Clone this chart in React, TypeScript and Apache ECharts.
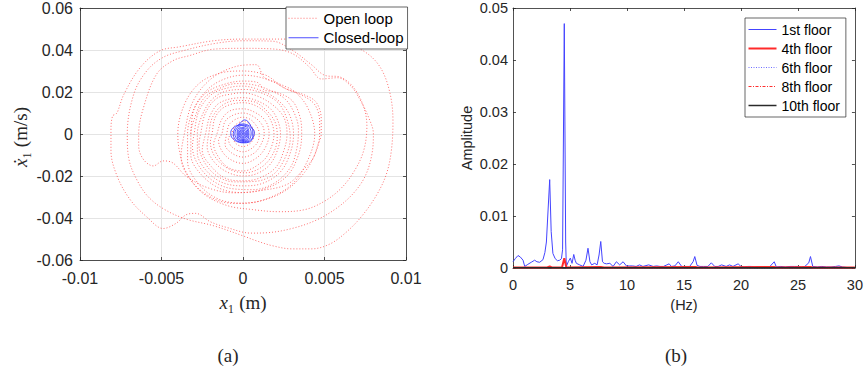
import React, { useEffect, useRef } from "react";
import * as echarts from "echarts";

// ---------- (a) phase portrait: x1 (m) vs x1-dot (m/s) ----------
// open-loop trajectory, clockwise, split into turns
const openGrowthTurn: number[][] = [
  [-0.0032, 0], [-0.003, 0.012], [-0.0022, 0.021], [-0.0012, 0.026], [0, 0.028], [0.0015, 0.026],
  [0.0028, 0.021], [0.0038, 0.0185], [0.0045, 0.015], [0.0048, 0.007], [0.0048, 0], [0.0046, -0.005],
  [0.0043, -0.0115], [0.0037, -0.017], [0.0027, -0.024], [0.001, -0.027], [-0.0006, -0.028],
  [-0.0022, -0.0255], [-0.0035, -0.02], [-0.0043, -0.0138], [-0.0049, -0.0128], [-0.0055, -0.0152],
  [-0.0061, -0.0122], [-0.0064, -0.0057], [-0.0064, 0], [-0.0061, 0.0127], [-0.0053, 0.0285],
  [-0.0043, 0.0349], [-0.0033, 0.0373], [-0.0018, 0.0404], [0, 0.0408], [0.002, 0.0404],
  [0.0031, 0.038], [0.0041, 0.0317], [0.0048, 0.0262], [0.0058, 0.0268], [0.0066, 0.023],
  [0.0072, 0.016], [0.0077, 0.008], [0.008, 0], [0.0079, -0.01], [0.0075, -0.02], [0.0068, -0.028],
  [0.0058, -0.035], [0.0045, -0.041], [0.003, -0.045], [0.0015, -0.047],
];
const openOuterTurn: number[][] = [
  [0.0005, -0.0472], [-0.001, -0.0445], [-0.002, -0.0418], [-0.0029, -0.0378], [-0.0035, -0.0385],
  [-0.0041, -0.0425], [-0.0049, -0.045], [-0.0059, -0.0395], [-0.0069, -0.0315], [-0.0077, -0.0205],
  [-0.0081, -0.008], [-0.0081, 0.002], [-0.008, 0.0086], [-0.0078, 0.0095], [-0.0077, 0.0105],
  [-0.0073, 0.019], [-0.0063, 0.0317], [-0.0051, 0.0396], [-0.0039, 0.0415], [-0.0018, 0.0444],
  [0, 0.0452], [0.0027, 0.0452], [0.0045, 0.0449], [0.006, 0.0435], [0.0074, 0.0395], [0.0084, 0.032],
  [0.009, 0.02], [0.0092, 0.006], [0.0091, -0.008], [0.0088, -0.019], [0.0082, -0.029], [0.0073, -0.039],
  [0.0063, -0.047], [0.0053, -0.0525], [0.0042, -0.0547], [0.003, -0.0547], [0.0018, -0.0532],
  [0.0008, -0.0508],
];
const openSecondTurn: number[][] = [
  [0, -0.0485], [-0.0018, -0.0437], [-0.0035, -0.0405], [-0.0048, -0.036], [-0.0058, -0.03],
  [-0.0065, -0.022], [-0.007, -0.012], [-0.0071, 0], [-0.0067, 0.019], [-0.0059, 0.0301],
  [-0.0049, 0.0365], [-0.0037, 0.0396], [-0.0018, 0.043], [0, 0.0444], [0.0018, 0.0442],
  [0.003, 0.04], [0.0042, 0.033], [0.005, 0.028], [0.006, 0.027], [0.0068, 0.022], [0.0074, 0.013],
  [0.0076, 0.004], [0.0074, -0.008], [0.0068, -0.018], [0.006, -0.026], [0.005, -0.032],
  [0.0038, -0.036], [0.0022, -0.037], [0.0006, -0.036], [-0.001, -0.034], [-0.0025, -0.028],
  [-0.0035, -0.018], [-0.0039, -0.008],
];
const openInnerRingsA: number[][] = [
  [-0.004, 0], [-0.0036, 0.014], [-0.0027, 0.024], [-0.0014, 0.029], [0, 0.03], [0.0014, 0.028],
  [0.0025, 0.022], [0.0036, 0.0185], [0.0044, 0.014], [0.0047, 0.006], [0.0047, 0], [0.0045, -0.008],
  [0.0038, -0.018], [0.0026, -0.027], [0.001, -0.032], [-0.0006, -0.033], [-0.002, -0.03],
  [-0.0032, -0.022], [-0.0038, -0.011],
  [-0.0036, 0], [-0.0031, 0.015], [-0.002, 0.026], [-0.0005, 0.032], [0.0008, 0.033], [0.0013, 0.027],
  [0.0022, 0.024], [0.0032, 0.02], [0.004, 0.012], [0.0044, 0], [0.004, -0.012], [0.003, -0.024],
  [0.0014, -0.031], [0, -0.033], [-0.0015, -0.031], [-0.0027, -0.024], [-0.0034, -0.013],
  [-0.0034, 0], [-0.003, 0.012], [-0.0022, 0.02], [-0.001, 0.024], [0, 0.0252], [0.0009, 0.0245],
  [0.0013, 0.021], [0.002, 0.02], [0.003, 0.016], [0.0035, 0.008], [0.0036, 0], [0.0034, -0.01],
  [0.0027, -0.02], [0.0014, -0.026], [0, -0.0279], [-0.0014, -0.026], [-0.0026, -0.019],
  [-0.0032, -0.01],
  [-0.0032, 0], [-0.0029, 0.009], [-0.0024, 0.017], [-0.0015, 0.0215], [-0.0004, 0.024],
  [0.0006, 0.0235], [0.0016, 0.021], [0.0026, 0.0165], [0.0032, 0.009], [0.0034, 0.002],
  [0.0033, -0.007], [0.0029, -0.016], [0.0019, -0.0235], [0.0006, -0.0265], [-0.0007, -0.026],
  [-0.0019, -0.022], [-0.0028, -0.014], [-0.0031, -0.006],
];
const openInnerRingsB: number[][] = [
  [-0.003, 0], [-0.0027, 0.011], [-0.0019, 0.019], [-0.0008, 0.0222], [0, 0.0228], [0.001, 0.021],
  [0.002, 0.017], [0.0028, 0.01], [0.0031, 0], [0.0029, -0.009], [0.0023, -0.018], [0.0012, -0.0235],
  [0, -0.0247], [-0.0013, -0.023], [-0.0023, -0.017], [-0.0028, -0.009],
  [-0.0028, 0], [-0.0025, 0.009], [-0.0019, 0.0165], [-0.001, 0.0205], [0.0002, 0.0212],
  [0.0013, 0.019], [0.0022, 0.0145], [0.0027, 0.007], [0.0029, -0.002], [0.0026, -0.011],
  [0.0019, -0.019], [0.0008, -0.0225], [-0.0005, -0.0228], [-0.0016, -0.02], [-0.0024, -0.013],
  [-0.0027, -0.005],
  [-0.0026, 0], [-0.0023, 0.01], [-0.0016, 0.017], [-0.0006, 0.0192], [0, 0.0196], [0.0009, 0.018],
  [0.0018, 0.014], [0.0025, 0.008], [0.0027, 0], [0.0025, -0.008], [0.002, -0.016], [0.001, -0.021],
  [0, -0.0223], [-0.0011, -0.021], [-0.002, -0.015], [-0.0025, -0.008],
  [-0.0023, 0], [-0.002, 0.009], [-0.0014, 0.015], [0, 0.0173], [0.0011, 0.015], [0.0019, 0.01],
  [0.0023, 0], [0.0021, -0.008], [0.0016, -0.015], [0.0008, -0.019], [0, -0.02], [-0.001, -0.018],
  [-0.0018, -0.013], [-0.0022, -0.006],
  [-0.0021, 0], [-0.0019, 0.0075], [-0.0013, 0.0135], [-0.0004, 0.016], [0.0006, 0.0155],
  [0.0014, 0.0115], [0.002, 0.005], [0.0021, -0.002], [0.0018, -0.01], [0.0011, -0.016],
  [0.0001, -0.0185], [-0.0009, -0.0165], [-0.0017, -0.011], [-0.002, -0.004],
];
const openInnerRingsC: number[][] = [
  [-0.0019, 0], [-0.0017, 0.008], [-0.0011, 0.013], [0, 0.0149], [0.0009, 0.013], [0.0016, 0.008],
  [0.0019, 0], [0.0017, -0.007], [0.0012, -0.013], [0, -0.0176], [-0.0009, -0.016], [-0.0015, -0.011],
  [-0.0018, -0.005],
  [-0.0016, 0], [-0.0013, 0.007], [-0.0008, 0.011], [0, 0.012], [0.0008, 0.01], [0.0014, 0.006],
  [0.0016, 0], [0.0014, -0.006], [0.0009, -0.011], [0, -0.014], [-0.0008, -0.012], [-0.0013, -0.008],
  [-0.0015, -0.003],
  [-0.0013, 0], [-0.0011, 0.006], [-0.0006, 0.009], [0, 0.01], [0.0007, 0.008], [0.0012, 0.004],
  [0.0013, 0], [0.0011, -0.005], [0.0007, -0.009], [0, -0.011], [-0.0007, -0.009], [-0.0011, -0.005],
  [-0.001, 0], [-0.0008, 0.005], [0, 0.008], [0.0006, 0.006], [0.001, 0], [0.0008, -0.005],
  [0, -0.0085], [-0.0007, -0.006], [-0.0009, -0.002],
  [-0.0007, 0], [-0.0005, 0.004], [0, 0.006], [0.0005, 0.004], [0.0007, 0], [0.0005, -0.004],
  [0, -0.006], [-0.0005, -0.004], [-0.0006, 0],
];
const openLoop = [
  ...openGrowthTurn,
  ...openOuterTurn,
  ...openSecondTurn,
  ...openInnerRingsA,
  ...openInnerRingsB,
  ...openInnerRingsC,
];

// closed-loop trajectory stays close to the origin
const closedLoopOuter: number[][] = [
  [-0.0003, 0.004], [0.0001, 0.0067], [0.0003, 0.006], [0.0005, 0.0035], [0.0007, 0.0008],
  [0.0006, -0.002], [0.0004, -0.0038], [0, -0.0042], [-0.0004, -0.0035], [-0.0007, -0.0015],
  [-0.00075, 0.0008], [-0.0006, 0.003], [-0.0003, 0.0042],
  [0, 0.0048], [0.0004, 0.0038], [0.0006, 0.0015], [0.0006, -0.0012], [0.0004, -0.0033], [0, -0.004],
  [-0.0004, -0.003], [-0.0006, -0.0005], [-0.0005, 0.0025], [-0.0002, 0.0043],
  [0.0001, 0.0042], [0.0004, 0.003], [0.0005, 0.0005], [0.0004, -0.0025], [0.0001, -0.0036],
  [-0.0003, -0.0028], [-0.0005, -0.0002], [-0.0004, 0.0025], [-0.0001, 0.004],
];
const closedLoopCore: number[][] = [
  [0.0003, 0.0028], [0.00036, 0], [0.0003, -0.0026], [0, -0.0031], [-0.0003, -0.0024],
  [-0.00036, 0], [-0.0003, 0.0026], [0, 0.003],
  [0.00026, 0.0022], [0.0003, 0], [0.00025, -0.0021], [0, -0.0026], [-0.00025, -0.002],
  [-0.0003, 0], [-0.00025, 0.0021], [0, 0.0025],
  [0.0002, 0.0017], [0.00024, 0], [0.0002, -0.0016], [0, -0.002], [-0.0002, -0.0016],
  [-0.00024, 0], [-0.0002, 0.0016], [0, 0.0019],
  [0.00015, 0.0012], [0.00018, 0], [0.00015, -0.0012], [0, -0.0015], [-0.00015, -0.0012],
  [-0.00018, 0], [-0.00015, 0.0012], [0, 0.0014],
  [0.0001, 0.0008], [0.00012, 0], [0.0001, -0.0008], [0, -0.001], [-0.0001, -0.0008],
  [-0.00012, 0], [-0.0001, 0.0008], [0, 0.0009],
  [0.00005, 0.0004], [0.00006, 0], [0, -0.0005], [-0.00006, 0], [0, 0.0004], [0, 0],
];
const closedLoop = [...closedLoopOuter, ...closedLoopCore];

// ---------- (b) amplitude spectra [Hz, amplitude] ----------
const floor1: number[][] = [
  [0, 0.0012], [0.2, 0.0018], [0.44, 0.0024], [0.65, 0.0021], [0.88, 0.0015], [1.03, 0.0003],
  [1.3, 0.0007], [1.6, 0.0011], [1.9, 0.0015], [2.1, 0.0012], [2.34, 0.0011], [2.63, 0.0016],
  [2.8, 0.003], [2.93, 0.005], [3.05, 0.01], [3.22, 0.017], [3.35, 0.007], [3.5, 0.0028],
  [3.7, 0.0018], [3.9, 0.0014], [4.1, 0.0015], [4.25, 0.0018], [4.35, 0.0035], [4.5, 0.047],
  [4.62, 0.005], [4.68, 0.0003], [4.85, 0.0012], [5.03, 0.0019], [5.18, 0.0009], [5.33, 0.0026],
  [5.45, 0.0015], [5.56, 0.0009], [5.85, 0.0006], [6.15, 0.0003], [6.4, 0.0015], [6.58, 0.0038],
  [6.75, 0.0012], [6.9, 0.0006], [7.17, 0.0009], [7.38, 0.0006], [7.55, 0.0025], [7.7, 0.0051],
  [7.85, 0.0012], [8.0, 0.0009], [8.2, 0.0008], [8.5, 0.0009], [8.78, 0.0003], [9.07, 0.0012],
  [9.36, 0.0006], [9.66, 0.0012], [9.95, 0.0004], [10.2, 0.0004], [10.5, 0.0004], [10.8, 0.0003],
  [11.1, 0.0006], [11.4, 0.0003], [11.9, 0.0006], [12.3, 0.0003], [12.6, 0.0004], [12.9, 0.0003],
  [13.2, 0.0003], [13.5, 0.0006], [13.7, 0.0008], [13.9, 0.0003], [14.2, 0.0004], [14.5, 0.0012],
  [14.8, 0.0003], [15.2, 0.0003], [15.5, 0.0003], [15.8, 0.0012], [15.95, 0.0022], [16.15, 0.0005],
  [16.4, 0.0003], [16.7, 0.0003], [17.1, 0.0003], [17.4, 0.001], [17.7, 0.0003], [18.0, 0.0003],
  [18.3, 0.0006], [18.7, 0.0003], [19.0, 0.0006], [19.3, 0.0003], [19.75, 0.0008], [20.0, 0.0003],
  [20.3, 0.0002], [20.6, 0.0003], [20.9, 0.0003], [21.2, 0.0002], [21.5, 0.0003], [21.8, 0.0002],
  [22.1, 0.0003], [22.5, 0.0002], [22.92, 0.0012], [23.1, 0.0002], [23.5, 0.0003], [23.9, 0.0002],
  [24.3, 0.0003], [24.7, 0.0003], [25.0, 0.0003], [25.3, 0.0002], [25.6, 0.0003], [25.95, 0.001],
  [26.1, 0.0022], [26.3, 0.0003], [26.7, 0.0002], [27.1, 0.0003], [27.5, 0.0002], [27.9, 0.0002],
  [28.3, 0.0003], [28.6, 0.0004], [28.9, 0.0002], [29.3, 0.0001], [29.7, 0.0001], [30, 0.0001],
];
const floor4: number[][] = [
  [0, 0.0001], [3.0, 0.0001], [3.22, 0.0003], [3.4, 0.0001], [4.3, 0.0001], [4.5, 0.0019],
  [4.68, 0.0001], [7.7, 0.0002], [8.0, 0.0001], [16.0, 0.0002], [16.2, 0.0001], [22.9, 0.0002],
  [23.1, 0.0001], [26.1, 0.0002], [26.3, 0.0001], [30, 0.0001],
];
const floor6: number[][] = [[0, 0.00005], [4.5, 0.0001], [4.7, 0.00005], [30, 0.00005]];
const floor8: number[][] = [[0, 0.00004], [4.5, 0.00008], [4.7, 0.00004], [30, 0.00004]];
const floor10: number[][] = [[0, 0.00003], [4.5, 0.00006], [4.7, 0.00003], [30, 0.00003]];

const SANS = "Liberation Sans, Arial, Helvetica, sans-serif";
const SERIF = "Liberation Serif, DejaVu Serif, serif";
const INK = "#262626";

// line styles shared by the series and their legend keys
const STYLE: Record<string, { color: string; width: number; type: any; opacity: number }> = {
  "Open loop": { color: "#ff4040", width: 1, type: [1, 2], opacity: 0.75 },
  "Closed-loop": { color: "#3030ff", width: 1, type: "solid", opacity: 0.85 },
  "1st floor": { color: "#4444ff", width: 1, type: "solid", opacity: 1 },
  "4th floor": { color: "#ff2a2a", width: 2, type: "solid", opacity: 1 },
  "6th floor": { color: "#6f6fff", width: 1, type: [1, 1.5], opacity: 1 },
  "8th floor": { color: "#ff3030", width: 1, type: [3, 1.5, 1, 1.5], opacity: 1 },
  "10th floor": { color: "#2a2a2a", width: 1.5, type: "solid", opacity: 1 },
};

const fmt = (v: number) => String(parseFloat(v.toFixed(4)));

function makeAxis(
  gridIndex: number,
  position: string,
  min: number,
  max: number,
  interval: number,
  labels: boolean,
  fontSize: number,
  margin: number,
  grid: boolean
) {
  return {
    type: "value",
    gridIndex,
    position,
    min,
    max,
    interval,
    axisLine: { show: true, onZero: false, lineStyle: { color: INK, width: 0.8 } },
    axisTick: { show: true, inside: true, length: 3, lineStyle: { color: INK, width: 0.8 } },
    axisLabel: {
      show: labels,
      color: INK,
      fontFamily: SANS,
      fontSize,
      margin,
      formatter: fmt,
    },
    splitLine: { show: grid, lineStyle: { color: "#e4e4e4", width: 1 } },
  };
}

function lineSeries(name: string, axis: number, data: number[][], z: number, smooth: number | boolean) {
  const s = STYLE[name];
  return {
    name,
    type: "line",
    xAxisIndex: axis,
    yAxisIndex: axis,
    data,
    symbol: "none",
    showSymbol: false,
    smooth,
    z,
    color: s.color,
    lineStyle: { ...s },
    itemStyle: { color: s.color },
  };
}

const legendItem = (name: string) => ({
  name,
  itemStyle: { opacity: 0 },
  lineStyle: { ...STYLE[name] },
});

const legendBase = {
  orient: "vertical",
  itemGap: 0,
  itemHeight: 10,
  backgroundColor: "#ffffff",
  borderColor: INK,
  borderWidth: 0.7,
  borderRadius: 0,
  itemStyle: { opacity: 0 },
};

export default function App() {
  const ref = useRef<HTMLDivElement>(null);

  useEffect(() => {
    if (!ref.current) return;
    const chart = echarts.init(ref.current, undefined, { renderer: "svg" });

    const centred = {
      align: "center",
      verticalAlign: "middle",
      textAlign: "center",
      textVerticalAlign: "middle",
    };

    const option = {
      animation: false,
      backgroundColor: "#ffffff",
      textStyle: { fontFamily: SANS },
      grid: [
        { left: 80, top: 8, width: 326, height: 252, show: false },
        { left: 513, top: 8, width: 342, height: 260, show: false },
      ],
      xAxis: [
        makeAxis(0, "bottom", -0.01, 0.01, 0.005, true, 16, 10, true),
        makeAxis(0, "top", -0.01, 0.01, 0.005, false, 16, 10, false),
        makeAxis(1, "bottom", 0, 30, 5, true, 14.5, 9, false),
        makeAxis(1, "top", 0, 30, 5, false, 14.5, 9, false),
      ],
      yAxis: [
        makeAxis(0, "left", -0.06, 0.06, 0.02, true, 16, 7, true),
        makeAxis(0, "right", -0.06, 0.06, 0.02, false, 16, 7, false),
        makeAxis(1, "left", 0, 0.05, 0.01, true, 14.5, 5, false),
        makeAxis(1, "right", 0, 0.05, 0.01, false, 14.5, 5, false),
      ],
      legend: [
        {
          ...legendBase,
          data: ["Open loop", "Closed-loop"].map(legendItem),
          left: 286,
          top: 7,
          itemWidth: 30,
          padding: [1.5, 4, 1.5, 2],
          textStyle: { fontSize: 15, lineHeight: 19.5, color: "#000", fontFamily: SANS },
        },
        {
          ...legendBase,
          data: ["1st floor", "4th floor", "6th floor", "8th floor", "10th floor"].map(legendItem),
          left: 745,
          top: 18,
          itemWidth: 28,
          padding: [2, 6, 2, 2.5],
          textStyle: { fontSize: 14, lineHeight: 19, color: "#000", fontFamily: SANS },
        },
      ],
      series: [
        lineSeries("Open loop", 0, openLoop, 3, 0.35),
        lineSeries("Closed-loop", 0, closedLoop, 4, 0.35),
        lineSeries("1st floor", 2, floor1, 3, false),
        lineSeries("4th floor", 2, floor4, 4, false),
        lineSeries("6th floor", 2, floor6, 4, false),
        lineSeries("8th floor", 2, floor8, 4, false),
        lineSeries("10th floor", 2, floor10, 5, false),
      ],
      graphic: [
        {
          type: "text",
          x: 243,
          y: 302,
          style: {
            text: "{i|x}{n|₁ (m)}",
            ...centred,
            rich: {
              i: { fontFamily: SERIF, fontStyle: "italic", fontSize: 19, fill: INK, color: INK },
              n: { fontFamily: SERIF, fontSize: 19, fill: INK, color: INK },
            },
          },
        },
        {
          type: "text",
          x: 20,
          y: 137,
          rotation: Math.PI / 2,
          style: {
            text: "{i|ẋ}{n|₁ (m/s)}",
            ...centred,
            rich: {
              i: { fontFamily: SERIF, fontStyle: "italic", fontSize: 19, fill: INK, color: INK },
              n: { fontFamily: SERIF, fontSize: 19, fill: INK, color: INK },
            },
          },
        },
        {
          type: "text",
          x: 684,
          y: 305,
          style: { text: "(Hz)", fontFamily: SANS, fontSize: 14.5, fill: INK, ...centred },
        },
        {
          type: "text",
          x: 467,
          y: 138,
          rotation: Math.PI / 2,
          style: { text: "Amplitude", fontFamily: SANS, fontSize: 14.5, fill: INK, ...centred },
        },
        {
          type: "text",
          x: 228,
          y: 355,
          style: { text: "(a)", fontFamily: SERIF, fontSize: 19, fill: INK, ...centred },
        },
        {
          type: "text",
          x: 676,
          y: 355,
          style: { text: "(b)", fontFamily: SERIF, fontSize: 19, fill: INK, ...centred },
        },
      ],
    };

    chart.setOption(option as any);
    return () => chart.dispose();
  }, []);

  return (
    <div
      ref={ref}
      style={{ position: "fixed", left: 0, top: 0, width: 866, height: 372, background: "#fff" }}
    />
  );
}
